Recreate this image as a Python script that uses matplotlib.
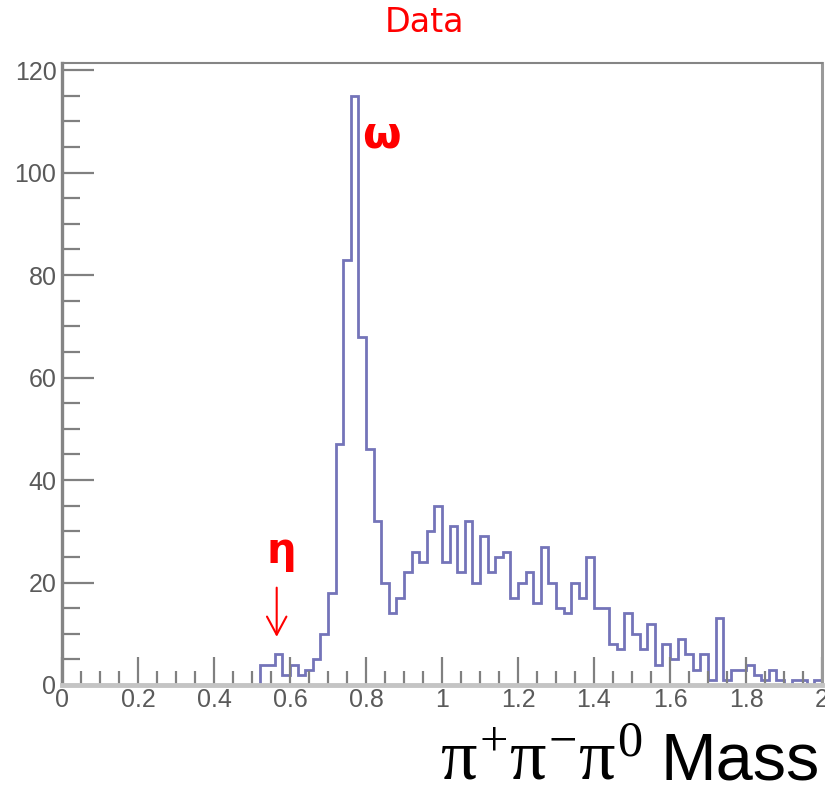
import matplotlib
matplotlib.use("Agg")
import matplotlib.pyplot as plt
from matplotlib.ticker import MultipleLocator
import numpy as np

# histogram: 100 bins of 0.02 from 0 to 2
bin_edges = np.round(np.arange(0, 2.0001, 0.02), 4)
counts = [0, 0, 0, 0, 0, 0, 0, 0, 0, 0,
          0, 0, 0, 0, 0, 0, 0, 0, 0, 0,
          0, 0, 0, 0, 0, 0, 4, 4, 6, 2,
          4, 2, 3, 5, 10, 18, 47, 83, 115, 68,
          46, 32, 20, 14, 17, 22, 26, 24, 30, 35,
          24, 31, 22, 32, 20, 29, 22, 25, 26, 17,
          20, 22, 16, 27, 20, 15, 14, 20, 17, 25,
          15, 15, 8, 7, 14, 10, 7, 12, 4, 8,
          5, 9, 6, 3, 6, 1, 13, 1, 3, 3,
          4, 2, 1, 3, 1, 0, 1, 1, 0, 1]

x_ticks = [0, 0.2, 0.4, 0.6, 0.8, 1, 1.2, 1.4, 1.6, 1.8, 2]
x_tick_labels = ["0", "0.2", "0.4", "0.6", "0.8", "1", "1.2", "1.4", "1.6", "1.8", "2"]
y_ticks = [0, 20, 40, 60, 80, 100, 120]

plt.rcParams['mathtext.fontset'] = 'custom'
plt.rcParams['mathtext.rm'] = 'Liberation Serif'
plt.rcParams['mathtext.it'] = 'Liberation Serif'

fig = plt.figure(figsize=(8.25, 7.89), dpi=100)
ax = fig.add_axes([62 / 825, 1 - 685 / 789, 760 / 825, 622 / 789])

ax.stairs(counts, bin_edges, color='#7474b9', lw=2.0)

ax.set_xlim(0, 2)
ax.set_ylim(0, 121.4)
ax.set_xticks(x_ticks)
ax.set_xticklabels(x_tick_labels)
ax.set_yticks(y_ticks)
ax.xaxis.set_minor_locator(MultipleLocator(0.05))
ax.yaxis.set_minor_locator(MultipleLocator(5))

ax.tick_params(axis='x', which='major', direction='in', length=20, width=1.6,
               color='#808080', labelsize=18, labelcolor='#5a5a5a', pad=2)
ax.tick_params(axis='x', which='minor', direction='in', length=10, width=1.6,
               color='#808080')
ax.tick_params(axis='y', which='major', direction='in', length=23, width=1.6,
               color='#808080', labelsize=18, labelcolor='#5a5a5a', pad=4)
ax.tick_params(axis='y', which='minor', direction='in', length=13, width=1.6,
               color='#808080')
for lab in ax.get_xticklabels() + ax.get_yticklabels():
    lab.set_family('Liberation Sans')

ax.spines['bottom'].set_color('#c4c4c4')
ax.spines['bottom'].set_linewidth(3.5)
ax.spines['left'].set_color('#858585')
ax.spines['left'].set_linewidth(2.4)
ax.spines['top'].set_color('#858585')
ax.spines['top'].set_linewidth(1.5)
ax.spines['right'].set_color('#9a9a9a')
ax.spines['right'].set_linewidth(2.2)

# title and axis label
fig.text(424 / 825, 1 - 23 / 789, 'Data', color='red', ha='center', va='center',
         fontsize=24, family='DejaVu Sans')
fig.text(643 / 825, 1 - 780 / 789, r'$\pi^{+}\pi^{-}\pi^{0}$', ha='right',
         va='baseline', fontsize=52, color='black')
fig.text(820 / 825, 1 - 780 / 789, 'Mass', ha='right',
         va='baseline', fontsize=48, family='Liberation Sans', color='black')

# annotations
ax.text(0.789, 105, '\u03c9', color='red', fontsize=32, fontweight='bold',
        ha='left', va='baseline', family='DejaVu Sans')
ax.text(0.539, 23.8, '\u03b7', color='red', fontsize=30, fontweight='bold',
        ha='left', va='baseline', family='DejaVu Sans')
ax.annotate('', xy=(0.565, 9.4), xytext=(0.565, 19),
            arrowprops=dict(arrowstyle='->,head_length=0.65,head_width=0.35',
                            color='red', lw=1.5, mutation_scale=20,
                            shrinkA=0, shrinkB=0))

fig.savefig('out.png', dpi=100)
